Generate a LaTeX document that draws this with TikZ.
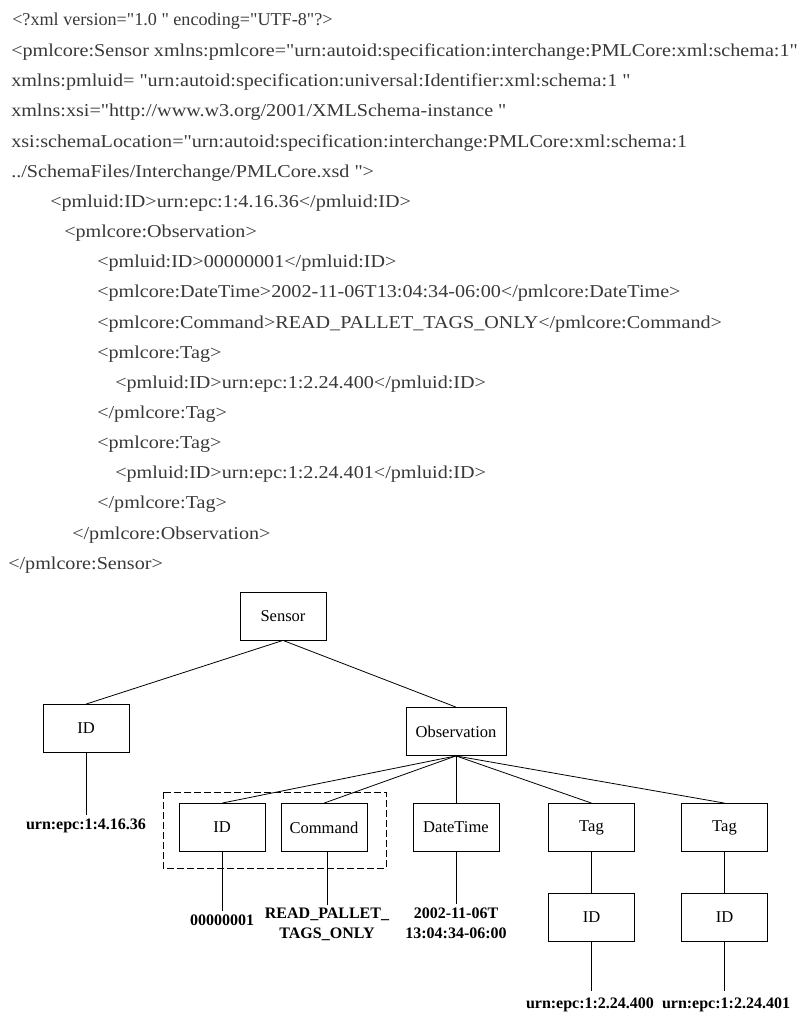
\documentclass[tikz,border=0pt]{standalone}
\usepackage{fontspec}
\setmainfont{Liberation Serif}
\newfontfamily\xmlfont[FakeStretch=1.11]{Liberation Serif}
\newfontfamily\xmlplainfont{Liberation Serif}
\begin{document}
\begin{tikzpicture}[x=0.75pt,y=-0.75pt,
  xmlline/.style={anchor=base west, inner sep=0pt, text=black!78,
    font=\xmlfont\fontsize{13.6}{16}\selectfont},
  xmlplain/.style={xmlline, font=\xmlplainfont\fontsize{13.6}{16}\selectfont},
  box/.style={draw, line width=0.6pt, minimum width=64.5pt, minimum height=36pt,
    inner sep=0pt, font=\fontsize{12.4}{15}\selectfont},
  leaf/.style={anchor=north, inner sep=0pt, align=center,
    font=\bfseries\fontsize{12}{15}\selectfont},
  edge/.style={line width=0.6pt}]
\useasboundingbox (0,0) rectangle (806,1017);

% ---- XML listing ----
\node[xmlplain] (l1) at (12,26)  {<?xml version="1.0 " encoding="UTF-8"?>};
\node[xmlline] (l2)  at (11,56)  {<pmlcore:Sensor xmlns:pmlcore="urn:autoid:specification:interchange:PMLCore:xml:schema:1"};
\node[xmlline] (l3)  at (11,86)  {xmlns:pmluid= "urn:autoid:specification:universal:Identifier:xml:schema:1 "};
\node[xmlline] (l4)  at (11,116) {xmlns:xsi="http://www.w3.org/2001/XMLSchema-instance "};
\node[xmlline] (l5)  at (11,147) {xsi:schemaLocation="urn:autoid:specification:interchange:PMLCore:xml:schema:1};
\node[xmlline] (l6)  at (11,177) {../SchemaFiles/Interchange/PMLCore.xsd ">};
\node[xmlline] (l7)  at (50,207) {<pmluid:ID>urn:epc:1:4.16.36</pmluid:ID>};
\node[xmlline] (l8)  at (64,237) {<pmlcore:Observation>};
\node[xmlline] (l9)  at (97,267) {<pmluid:ID>00000001</pmluid:ID>};
\node[xmlline] (l10) at (97,297) {<pmlcore:DateTime>2002-11-06T13:04:34-06:00</pmlcore:DateTime>};
\node[xmlline] (l11) at (97,328) {<pmlcore:Command>READ\_PALLET\_TAGS\_ONLY</pmlcore:Command>};
\node[xmlline] (l12) at (97,358) {<pmlcore:Tag>};
\node[xmlline] (l13) at (115,388) {<pmluid:ID>urn:epc:1:2.24.400</pmluid:ID>};
\node[xmlline] (l14) at (97,418) {</pmlcore:Tag>};
\node[xmlline] (l15) at (97,448) {<pmlcore:Tag>};
\node[xmlline] (l16) at (115,478) {<pmluid:ID>urn:epc:1:2.24.401</pmluid:ID>};
\node[xmlline] (l17) at (97,508) {</pmlcore:Tag>};
\node[xmlline] (l18) at (72,539) {</pmlcore:Observation>};
\node[xmlline] (l19) at (8,569)  {</pmlcore:Sensor>};

% ---- tree ----
\node[box] (sensor) at (283,616) {Sensor};
\node[box] (id) at (86,728.5) {ID};
\node[box, minimum width=75pt] (obs) at (456,731.5) {Observation};

\node[box] (oid)  at (222,827.5) {ID};
\node[box] (cmd)  at (324,827.5) {Command};
\node[box] (dt)   at (456,827.5) {DateTime};
\node[box] (tag1) at (591.5,827.5) {Tag};
\node[box] (tag2) at (724.5,827.5) {Tag};
\node[box] (tid1) at (591.5,917.5) {ID};
\node[box] (tid2) at (724.5,917.5) {ID};

% grouping frame around ID and Command
\draw[line width=0.6pt, dash pattern=on 5pt off 2.5pt] (163,792) rectangle (386,868);

% values
\node[leaf] (vid)   at (86,819)   {urn:epc:1:4.16.36};
\node[leaf] (void)  at (222,915)  {00000001};
\node[leaf] (vcmd)  at (327,908)  {READ\_PALLET\_\\TAGS\_ONLY};
\node[leaf] (vdt)   at (456,908)  {2002-11-06T\\13:04:34-06:00};
\node[leaf] (vtid1) at (590,998) {urn:epc:1:2.24.400};
\node[leaf] (vtid2) at (726,998)   {urn:epc:1:2.24.401};

% connectors
\draw[edge] (sensor.south) -- (id.north);
\draw[edge] (sensor.south) -- (obs.north);
\foreach \c in {oid,cmd,dt,tag1,tag2}
  \draw[edge] (obs.south) -- (\c.north);
\draw[edge] (tag1.south) -- (tid1.north);
\draw[edge] (tag2.south) -- (tid2.north);
\draw[edge] (id.south) -- ([yshift=3pt]vid.north);
\draw[edge] (oid.south) -- ([yshift=3pt]void.north);
\draw[edge] (cmd.south -| vcmd.north) -- ([yshift=2pt]vcmd.north);
\draw[edge] (dt.south) -- ([yshift=3pt]vdt.north);
\draw[edge] (tid1.south) -- ([yshift=5pt]vtid1.north -| tid1.south);
\draw[edge] (tid2.south) -- ([yshift=5pt]vtid2.north -| tid2.south);
\end{tikzpicture}
\end{document}
